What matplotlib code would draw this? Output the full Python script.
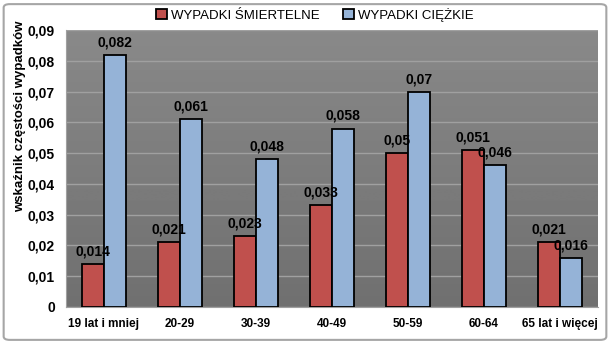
import matplotlib
matplotlib.use("Agg")
import matplotlib.pyplot as plt
from matplotlib.patches import FancyBboxPatch
import numpy as np

# data
categories = ["19 lat i mniej", "20-29", "30-39", "40-49", "50-59", "60-64", "65 lat i więcej"]
fatal = [0.014, 0.021, 0.023, 0.033, 0.05, 0.051, 0.021]
serious = [0.082, 0.061, 0.048, 0.058, 0.07, 0.046, 0.016]
fatal_labels = ["0,014", "0,021", "0,023", "0,033", "0,05", "0,051", "0,021"]
serious_labels = ["0,082", "0,061", "0,048", "0,058", "0,07", "0,046", "0,016"]
yticks = [0, 0.01, 0.02, 0.03, 0.04, 0.05, 0.06, 0.07, 0.08, 0.09]
ytick_labels = ["0", "0,01", "0,02", "0,03", "0,04", "0,05", "0,06", "0,07", "0,08", "0,09"]

plt.rcParams['font.family'] = ['Liberation Sans', 'DejaVu Sans']

fig = plt.figure(figsize=(6.1, 3.44), dpi=100)
# outer frame
frame = FancyBboxPatch((0.006, 0.012), 0.988, 0.976, boxstyle="round,pad=0,rounding_size=0.01",
                       transform=fig.transFigure, facecolor="none", edgecolor="#a6a6a6",
                       linewidth=1.5, zorder=-1)
fig.patches.append(frame)

ax = fig.add_axes([0.108, 0.1076, 0.872, 0.805])
ax.set_facecolor("none")

# gradient background of the plot area
grad = np.linspace(1, 0, 256).reshape(-1, 1)
ax.imshow(grad, extent=[-0.5, 6.5, 0, 0.09], aspect="auto", cmap="Greys",
          vmin=-6, vmax=5, zorder=0, origin="lower")

x = np.arange(len(categories))
w = 0.29
ax.bar(x - w/2, fatal, w, color="#C0504D", edgecolor="black", linewidth=1.3,
       label="WYPADKI ŚMIERTELNE", zorder=3)
ax.bar(x + w/2, serious, w, color="#95B3D7", edgecolor="black", linewidth=1.3,
       label="WYPADKI CIĘŻKIE", zorder=3)

for i in range(len(categories)):
    ax.text(x[i] - w/2, fatal[i] + 0.0018, fatal_labels[i], ha="center", va="bottom",
            fontsize=10, fontweight="bold", zorder=4)
    ax.text(x[i] + w/2, serious[i] + 0.0018, serious_labels[i], ha="center", va="bottom",
            fontsize=10, fontweight="bold", zorder=4)

ax.set_xlim(-0.5, 6.5)
ax.set_ylim(0, 0.09)
ax.set_yticks(yticks)
ax.set_yticklabels(ytick_labels, fontsize=10, fontweight="bold")
ax.set_xticks(x)
ax.set_xticklabels(categories, fontsize=8.5, fontweight="bold")
ax.tick_params(axis="both", length=0, pad=8)
ax.yaxis.grid(True, color="#a0a0a0", linewidth=1, zorder=1)
for s in ["top", "right"]:
    ax.spines[s].set_visible(False)
ax.spines["left"].set_color("#a0a0a0")
ax.spines["bottom"].set_color("#a0a0a0")

ax.set_ylabel("wskaźnik częstości wypadków", fontsize=9.5, fontweight="bold")
ax.yaxis.set_label_coords(-0.075, 0.69)

ax.legend(loc="center", bbox_to_anchor=(0.468, 1.055), ncol=2, frameon=False,
          fontsize=9.5, handlelength=0.8, handleheight=0.8, columnspacing=1.8, handletextpad=0.3)

fig.savefig("out.png", dpi=100)
